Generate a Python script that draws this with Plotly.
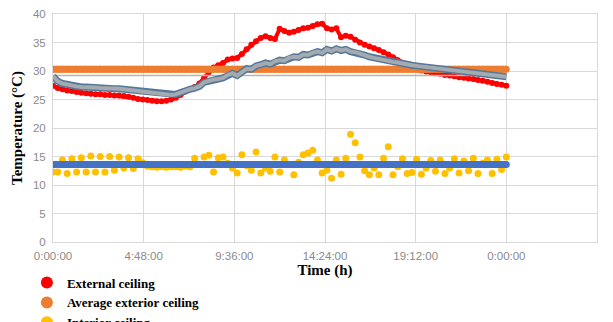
import plotly.graph_objects as go

# time in hours, 15-minute steps
hours = [i * 0.25 for i in range(97)]

external_ceiling = [
    27.4, 27.0, 26.8, 26.6, 26.5, 26.3, 26.2, 26.1, 26.0, 25.9, 25.9, 25.8, 25.8, 25.7, 25.7, 25.6,
    25.5, 25.3, 25.1, 25.0, 24.9, 24.8, 24.7, 24.7, 24.8, 25.0, 25.3, 25.8, 26.4, 26.8, 27.2, 27.8,
    28.8, 29.8, 30.6, 31.0, 31.4, 32.0, 32.2, 32.3, 33.0, 33.8, 34.6, 35.2, 35.8, 36.1, 35.8, 35.6,
    37.4, 37.0, 36.7, 36.9, 37.2, 37.5, 37.6, 37.9, 38.2, 38.3, 37.5, 37.3, 37.5, 35.9, 36.2, 36.0,
    35.5, 35.0, 34.6, 34.3, 34.0, 33.7, 33.3, 32.9, 32.4, 31.9, 31.4, 31.0, 30.6, 30.3, 30.1, 29.9,
    29.8, 29.6, 29.5, 29.3, 29.2, 29.1, 28.9, 28.8, 28.7, 28.6, 28.4, 28.3, 28.1, 27.9, 27.7, 27.6,
    27.4,
]

air_temperature = [
    29.1, 28.2, 27.8, 27.6, 27.4, 27.3, 27.2, 27.2, 27.1, 27.1, 27.0, 27.0, 27.0, 26.9, 26.9, 26.8,
    26.7, 26.6, 26.4, 26.3, 26.2, 26.1, 26.0, 25.9, 25.8, 25.8, 25.9, 26.2, 26.6, 26.8, 27.0, 27.3,
    28.0, 28.3, 28.5, 28.6, 28.8, 29.3, 29.6, 29.2, 29.8, 30.4, 30.3, 30.9, 31.1, 31.4, 31.2, 31.7,
    31.9, 31.8, 32.3, 32.5, 32.4, 32.9, 32.8, 33.2, 33.4, 33.2, 33.8, 33.5, 33.9, 33.6, 33.8, 33.4,
    33.3, 33.0, 32.8, 32.5, 32.3, 32.1, 31.9, 31.8, 31.6, 31.5, 31.3, 31.2, 31.0, 30.9, 30.8, 30.7,
    30.6, 30.5, 30.4, 30.3, 30.2, 30.1, 30.0, 29.9, 29.8, 29.7, 29.6, 29.5, 29.4, 29.3, 29.2, 29.1,
    29.0,
]

interior_ceiling = [
    12.3, 12.3, 14.4, 12.0, 14.6, 12.3, 14.8, 12.3, 15.1, 12.3, 15.0, 12.3, 15.0, 12.6, 14.9, 13.0,
    14.8, 12.9, 14.6, 13.9, 13.3, 13.2, 13.1, 13.2, 13.1, 13.2, 13.2, 13.1, 13.3, 13.2, 14.7, 13.6,
    14.9, 15.2, 12.3, 14.8, 14.9, 13.8, 13.0, 12.1, 15.3, 13.4, 12.6, 15.8, 12.1, 13.0, 12.4, 14.9,
    12.3, 14.4, 13.6, 11.8, 14.0, 15.3, 15.6, 16.1, 14.4, 12.1, 12.6, 11.2, 14.4, 11.9, 14.7, 18.9,
    17.4, 14.9, 12.5, 11.8, 13.0, 11.8, 14.7, 16.7, 11.8, 13.2, 14.6, 12.0, 12.2, 14.5, 11.9, 13.0,
    14.3, 12.4, 14.4, 12.0, 13.0, 14.6, 12.1, 14.2, 12.5, 14.7, 12.0, 13.8, 14.4, 12.0, 14.5, 12.7,
    14.9,
]

avg_exterior_ceiling = 30.3
avg_interior_ceiling = 13.6
avg_air_temperature = 29.2

x_tickvals = [0, 4.8, 9.6, 14.4, 19.2, 24.0, 28.8]
x_ticktext = ["0:00:00", "4:48:00", "9:36:00", "14:24:00", "19:12:00", "0:00:00", "4:48:00"]
y_tickvals = [0, 5, 10, 15, 20, 25, 30, 35, 40]

RED = "#FF0000"
ORANGE = "#ED7D31"
YELLOW = "#FFC000"
BLUE = "#4472C4"

fig = go.Figure()

# External ceiling
fig.add_trace(go.Scatter(
    x=hours, y=external_ceiling, mode="lines", showlegend=False, hoverinfo="skip",
    line=dict(color=RED, width=4),
))
fig.add_trace(go.Scatter(
    x=hours, y=external_ceiling, mode="markers", name="External ceiling",
    marker=dict(color=RED, size=6),
))
# Average exterior ceiling
fig.add_trace(go.Scatter(
    x=hours, y=[avg_exterior_ceiling] * len(hours), mode="lines", showlegend=False,
    hoverinfo="skip", line=dict(color=ORANGE, width=7),
))
fig.add_trace(go.Scatter(
    x=hours, y=[avg_exterior_ceiling] * len(hours), mode="markers",
    name="Average exterior ceiling", marker=dict(color=ORANGE, size=7),
))
# Interior ceiling
fig.add_trace(go.Scatter(
    x=hours, y=interior_ceiling, mode="markers", name="Interior ceiling",
    marker=dict(color=YELLOW, size=7),
))
# Average interior ceiling
fig.add_trace(go.Scatter(
    x=hours, y=[avg_interior_ceiling] * len(hours), mode="lines+markers",
    name="Average interior ceiling", showlegend=False,
    line=dict(color=BLUE, width=7), marker=dict(color=BLUE, size=7),
))
# Average air temperature (thin line)
fig.add_trace(go.Scatter(
    x=hours, y=[avg_air_temperature] * len(hours), mode="lines",
    name="Average air temperature", showlegend=False,
    line=dict(color="#BDB5A8", width=1.5),
))
# Air temperature (grey band with blue-grey edge)
fig.add_trace(go.Scatter(
    x=hours, y=air_temperature, mode="lines", showlegend=False, hoverinfo="skip",
    line=dict(color="#55779A", width=7),
))
fig.add_trace(go.Scatter(
    x=hours, y=air_temperature, mode="lines",
    name="Air temperature", showlegend=False,
    line=dict(color="#A3AAB0", width=4),
))

tick_font = dict(family="Liberation Sans", size=11.5, color="#8A8A8A")
title_font = dict(family="Liberation Serif", size=15, color="#000000", weight="bold")

fig.update_layout(
    width=613, height=322,
    margin=dict(l=53, r=16, t=14, b=80, autoexpand=False),
    paper_bgcolor="white", plot_bgcolor="white",
    showlegend=True,
    legend=dict(
        x=-0.048, y=-0.112, xanchor="left", yanchor="top",
        orientation="v", tracegroupgap=0, itemsizing="constant",
        font=dict(family="Liberation Serif", size=13, color="#000000", weight="bold"),
        bgcolor="rgba(0,0,0,0)",
    ),
    xaxis=dict(
        range=[0, 28.8], tickvals=x_tickvals, ticktext=x_ticktext,
        showgrid=True, gridcolor="#D9D9D9", gridwidth=1,
        showline=True, linecolor="#D9D9D9", mirror=True, zeroline=False,
        tickfont=tick_font, ticks="", ticklabelstandoff=3,
        title=dict(text="Time (h)", font=title_font, standoff=2),
    ),
    yaxis=dict(
        range=[0, 40], tickvals=y_tickvals,
        showgrid=True, gridcolor="#D9D9D9", gridwidth=1,
        showline=True, linecolor="#D9D9D9", mirror=True, zeroline=False,
        tickfont=tick_font, ticks="", ticklabelstandoff=4,
        title=dict(text="Temperature (°C)", font=title_font, standoff=6),
    ),
)

fig.write_html(
    "out.html",
    config={"displayModeBar": False},
    post_script="document.body.style.margin='0';document.body.style.overflow='hidden';",
)
